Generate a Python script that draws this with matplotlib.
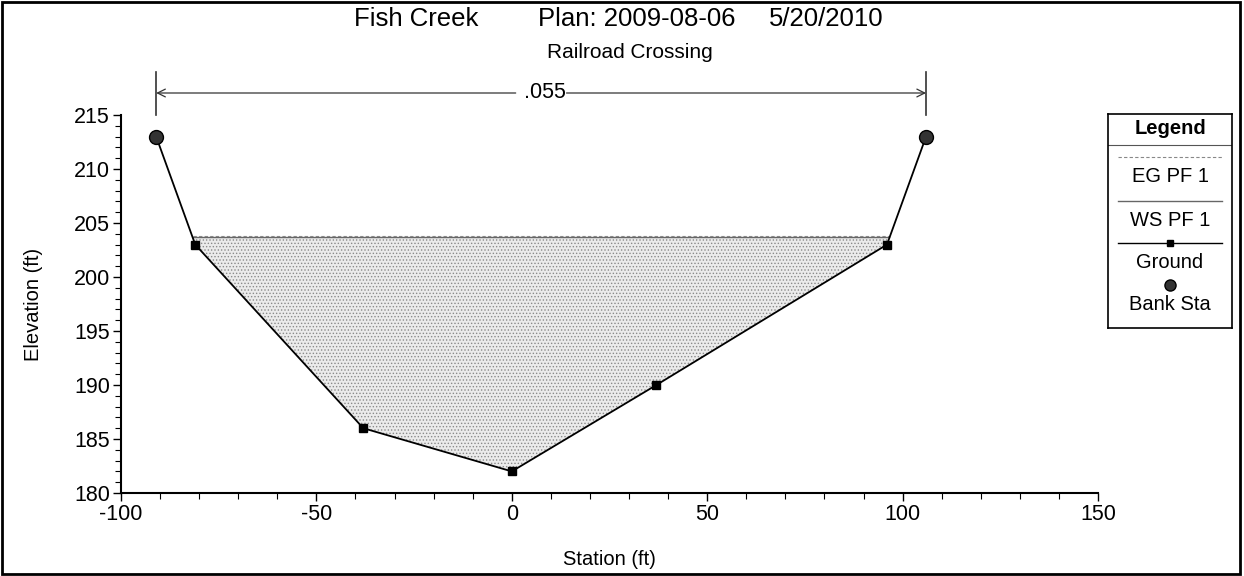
import numpy as np
import matplotlib
matplotlib.use("Agg")
import matplotlib.pyplot as plt
from matplotlib.ticker import MultipleLocator
from matplotlib.patches import Rectangle

plt.rcParams['font.family'] = ['Liberation Sans', 'DejaVu Sans']
plt.rcParams['axes.unicode_minus'] = False
plt.rcParams['hatch.linewidth'] = 0.6

# ---- data ----
station = [-91, -81, -38, 0, 37, 96, 106]
ground = [213, 203, 186, 182, 190, 203, 213]
bank_sta = [-91, 106]
bank_elev = [213, 213]
ws_elev = 203.7
eg_elev = 203.8
mann_n = ".055"
title_parts = ["Fish Creek", "Plan: 2009-08-06", "5/20/2010"]
subtitle = "Railroad Crossing"
legend_labels = ["EG PF 1", "WS PF 1", "Ground", "Bank Sta"]

W, H = 1244, 576
fig = plt.figure(figsize=(W / 100, H / 100), dpi=100)

def fx(px):
    return px / W

def fy(py):
    return 1 - py / H

ax = fig.add_axes([fx(121), fy(493), fx(1098) - fx(121), fy(115) - fy(493)])
ax.set_xlim(-100, 150)
ax.set_ylim(180, 215)

# water fill
xs = np.linspace(min(station), max(station), 2000)
gs = np.interp(xs, station, ground)
ax.fill_between(xs, gs, ws_elev, where=gs < ws_elev, facecolor='#ebebeb',
                edgecolor='#8a8a8a', hatch='.....', linewidth=0, zorder=1)
wet = xs[gs < ws_elev]
ax.plot([wet.min(), wet.max()], [ws_elev, ws_elev], color='#666666', lw=1.0, zorder=2)
ax.plot([wet.min(), wet.max()], [eg_elev, eg_elev], color='#888888', lw=0.8,
        ls=(0, (3, 2)), zorder=2)

# ground
ax.plot(station, ground, color='black', lw=1.3, marker='s', ms=6,
        mec='black', mfc='black', zorder=3)
# bank stations
ax.plot(bank_sta, bank_elev, ls='none', marker='o', ms=10, mfc='#333333',
        mec='black', zorder=4)

# ticks
ax.xaxis.set_major_locator(MultipleLocator(50))
ax.xaxis.set_minor_locator(MultipleLocator(10))
ax.yaxis.set_major_locator(MultipleLocator(5))
ax.yaxis.set_minor_locator(MultipleLocator(1))
ax.tick_params(axis='both', which='major', labelsize=15.5, length=6, width=1,
               direction='out', pad=2)
ax.tick_params(axis='both', which='minor', length=4, width=0.8, direction='out')
for s in ['top', 'right']:
    ax.spines[s].set_visible(False)
ax.spines['left'].set_linewidth(1.5)
ax.spines['bottom'].set_linewidth(1.5)
ax.set_xlabel("Station (ft)", fontsize=14.5, labelpad=18)
ax.set_ylabel("Elevation (ft)", fontsize=14.5, labelpad=22)

# Manning's n arrow
trans = ax.get_xaxis_transform()
y_arrow = 1 + (115 - 93) / (493 - 115)
y_top = 1 + (115 - 72) / (493 - 115)
for b in bank_sta:
    ax.plot([b, b], [1.0, y_top], color='#333333', lw=1.2, transform=trans, clip_on=False)
mid = (bank_sta[0] + bank_sta[1]) / 2
gap = 6.5
ax.annotate("", xy=(bank_sta[0], y_arrow), xytext=(mid - gap, y_arrow),
            xycoords=trans, textcoords=trans,
            arrowprops=dict(arrowstyle='->', color='#333333', lw=0.9,
                            mutation_scale=14, shrinkA=0, shrinkB=0))
ax.annotate("", xy=(bank_sta[1], y_arrow), xytext=(mid + gap, y_arrow),
            xycoords=trans, textcoords=trans,
            arrowprops=dict(arrowstyle='->', color='#333333', lw=0.9,
                            mutation_scale=14, shrinkA=0, shrinkB=0))
ax.text(mid + 1, y_arrow, mann_n, transform=trans, ha='center', va='center',
        fontsize=15.5, color='black', clip_on=False)

# titles
for px, part in zip([354, 538, 769], title_parts):
    fig.text(fx(px), fy(19), part, ha='left', va='center', fontsize=18.5)
fig.text(fx(630), fy(53), subtitle, ha='center', va='center', fontsize=15)

# legend box
lx0, lx1, ly0, ly1 = 1108, 1232, 114, 328
lax = fig.add_axes([fx(lx0), fy(ly1), fx(lx1) - fx(lx0), fy(ly0) - fy(ly1)])
lax.set_xlim(lx0, lx1)
lax.set_ylim(ly1, ly0)
lax.set_xticks([])
lax.set_yticks([])
for s in lax.spines.values():
    s.set_linewidth(1.2)
lax.text((lx0 + lx1) / 2, 129, "Legend", ha='center', va='center', fontsize=14.5, fontweight='bold')
lax.plot([lx0, lx1], [145, 145], color='#555555', lw=0.8)
lxa, lxb = 1118, 1222
cx = (lx0 + lx1) / 2
lax.plot([lxa, lxb], [157, 157], color='#888888', lw=0.8, ls=(0, (3, 2)))
lax.text(cx, 177, legend_labels[0], ha='center', va='center', fontsize=14.5)
lax.plot([lxa, lxb], [201, 201], color='#666666', lw=1.0)
lax.text(cx, 220, legend_labels[1], ha='center', va='center', fontsize=14.5)
lax.plot([lxa, lxb], [243, 243], color='black', lw=1.0)
lax.plot([cx], [243], marker='s', ms=5, color='black')
lax.text(cx, 263, legend_labels[2], ha='center', va='center', fontsize=14.5)
lax.plot([cx], [285], marker='o', ms=8, mfc='#333333', mec='black')
lax.text(cx, 305, legend_labels[3], ha='center', va='center', fontsize=14.5)

# outer frame
fig.patches.append(Rectangle((fx(2), fy(574)), fx(1240) - fx(2), fy(2) - fy(574),
                             transform=fig.transFigure, fill=False,
                             edgecolor='black', lw=2))

fig.savefig("out.png", dpi=100)
